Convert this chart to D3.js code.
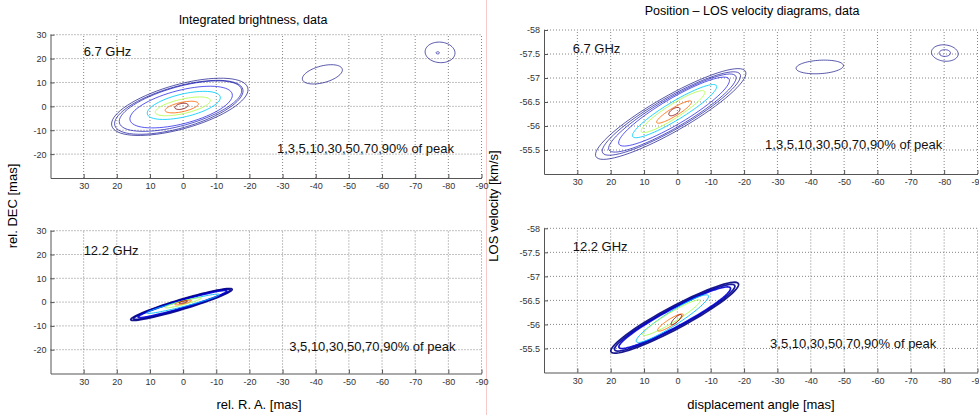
<!DOCTYPE html>
<html><head><meta charset="utf-8">
<script src="https://cdn.jsdelivr.net/npm/d3@7"></script>
<style>
html,body{margin:0;padding:0;background:#fff;}
svg{display:block;font-family:"Liberation Sans",Arial,sans-serif;}
</style></head>
<body>
<svg id="c" width="979" height="415"></svg>
<script>
// ---------- data ----------
const xTicks = [30,20,10,0,-10,-20,-30,-40,-50,-60,-70,-80,-90];
const xDomain = [40,-90];
const decTicks = [30,20,10,0,-10,-20];
const decDomain = [-30,30];
const velTicks = [-58,-57.5,-57,-56.5,-56,-55.5];
const velDomain = [-58,-55];
const levels67 = [1,3,5,10,30,50,70,90];
const levels122 = [3,5,10,30,50,70,90];
// contour records: [level, centerX, centerY, tipX, tipY, halfThickness(y units)]
const brightness67 = [
  [1, 1.0, -0.2, 21.5, -8.2, 9.6],
  [1, -42.0, 13.4, -36.0, 11.2, 3.6],
  [1, -77.5, 22.6, -73.0, 23.1, 4.3],
  [3, 1.3, -0.4, 20.6, -8.0, 9.0],
  [3, -76.8, 22.4, -76.3, 22.4, 0.45],
  [5, 0.8, 0.1, 19.2, -7.0, 8.4],
  [10, 0.6, -0.3, 16.0, -5.8, 7.2],
  [30, -0.2, 0.4, 10.8, -3.2, 4.9],
  [50, 0.1, 0.0, 8.4, -2.6, 3.1],
  [70, 0.4, -0.3, 5.4, -1.8, 2.0],
  [90, 0.5, 0.0, 2.5, -0.6, 1.2]
];
const velocity67 = [
  [1, 2.0, -56.25, 24.4, -55.36, 0.42],
  [1, -42.7, -57.23, -35.6, -57.20, 0.14],
  [1, -80.2, -57.52, -76.2, -57.55, 0.17],
  [3, -80.2, -57.52, -78.5, -57.52, 0.07],
  [3, 1.8, -56.26, 22.4, -55.44, 0.38],
  [5, 1.5, -56.27, 20.5, -55.50, 0.35],
  [10, 1.0, -56.30, 17.5, -55.62, 0.31],
  [30, 0.85, -56.31, 13.4, -55.78, 0.22],
  [50, 1.3, -56.30, 10.8, -55.88, 0.17],
  [70, 1.0, -56.29, 6.2, -56.07, 0.10],
  [90, 0.9, -56.30, 2.5, -56.23, 0.07]
];
const brightness122 = [
  [3, 0.5, -1.0, 15.8, -7.4, 2.2],
  [5, 0.4, -0.9, 15.0, -7.0, 1.9],
  [10, 0.2, -0.8, 13.6, -6.3, 1.6],
  [30, 0.0, -0.7, 11.0, -4.6, 1.2],
  [50, 0.0, -0.3, 5.5, -2.3, 0.8],
  [70, 0.0, -0.2, 2.5, -1.0, 0.55],
  [90, 0.0, 0.0, 1.3, -0.4, 0.4]
];
const velocity122 = [
  [3, 0.8, -56.14, 19.9, -55.43, 0.26],
  [5, 0.8, -56.14, 18.8, -55.47, 0.23],
  [10, 0.8, -56.14, 17.5, -55.52, 0.21],
  [30, 1.5, -56.12, 12.3, -55.64, 0.17],
  [50, 1.8, -56.14, 10.4, -55.78, 0.12],
  [70, 2.1, -56.04, 5.9, -55.87, 0.08],
  [90, 0.3, -56.10, 1.8, -56.00, 0.06]
];
const titles = ["Integrated brightness, data", "Position \u2013 LOS velocity diagrams, data"];
const yLabels = ["rel. DEC [mas]", "LOS velocity [km/s]"];
const xLabels = ["rel. R. A. [mas]", "displacement angle [mas]"];
const freqLabels = ["6.7 GHz", "12.2 GHz"];
const levelLabels = ["1,3,5,10,30,50,70,90% of peak", "3,5,10,30,50,70,90% of peak"];

// ---------- helpers ----------
function jet(v){
  v = Math.max(0, Math.min(1, v));
  const r = Math.max(0, Math.min(1, 1.5 - Math.abs(4*v - 3)));
  const g = Math.max(0, Math.min(1, 1.5 - Math.abs(4*v - 2)));
  const b = Math.max(0, Math.min(1, 1.5 - Math.abs(4*v - 1)));
  return d3.rgb(r*255, g*255, b*255).formatHex();
}
function ellipse(rec, xs, ys){
  const [lev, cx, cy, tx, ty, t] = rec;
  const C = [xs(cx), ys(cy)], P = [xs(tx), ys(ty)];
  const dx = P[0]-C[0], dy = P[1]-C[1];
  const a = Math.max(0.5, Math.hypot(dx, dy));
  const th = Math.atan2(dy, dx);
  const s = Math.sin(th), co = Math.cos(th);
  const tp = Math.abs(ys(cy + t) - ys(cy));
  const inv = 1/(tp*tp) - (s*s)/(a*a);
  const b = inv > 0 ? Math.abs(co)/Math.sqrt(inv) : tp;
  return d3.range(0, 72).map(k => {
    const f = 2*Math.PI*k/72;
    const u = a*Math.cos(f), v = b*Math.sin(f);
    return [C[0] + u*co - v*s, C[1] + u*s + v*co];
  });
}

const svg = d3.select("#c");
const fmt = d => String(d).replace("\u2212", "-");

const panels = [
  {xr:[50.5,481.5], yr:[178,34.7], ydom:decDomain, yticks:decTicks, data:brightness67, levels:levels67, f:0, fx:30, fy:21, lx:-28.3, ly:-19.7, thick:false},
  {xr:[50.5,481.5], yr:[373.5,230.7], ydom:decDomain, yticks:decTicks, data:brightness122, levels:levels122, f:1, fx:30, fy:20, lx:-32, ly:-20.6, thick:true},
  {xr:[544,977.5], yr:[30,174], ydom:velDomain, yticks:velTicks, data:velocity67, levels:levels67, f:0, fx:31.4, fy:-57.52, lx:-26.3, ly:-55.53, thick:false},
  {xr:[544,977.5], yr:[228.3,372.5], ydom:velDomain, yticks:velTicks, data:velocity122, levels:levels122, f:1, fx:31.4, fy:-57.52, lx:-27.8, ly:-55.5, thick:true}
];

// faint separator
svg.append("line").attr("x1",486.5).attr("x2",486.5).attr("y1",0).attr("y2",415)
  .attr("stroke","#f6caca").attr("stroke-width",1);

panels.forEach((p, i) => {
  const xs = d3.scaleLinear().domain(xDomain).range(p.xr);
  const ys = d3.scaleLinear().domain(p.ydom).range(p.yr);
  const yBottom = Math.max(p.yr[0], p.yr[1]), yTop = Math.min(p.yr[0], p.yr[1]);
  const g = svg.append("g");
  // grid
  g.selectAll(".gx").data(xTicks).join("line")
    .attr("x1", d => xs(d)).attr("x2", d => xs(d))
    .attr("y1", yBottom).attr("y2", yTop)
    .attr("stroke", "#777").attr("stroke-width", 0.9).attr("stroke-dasharray", "1,2");
  g.selectAll(".gy").data(p.yticks).join("line")
    .attr("x1", p.xr[0]).attr("x2", p.xr[1])
    .attr("y1", d => ys(d)).attr("y2", d => ys(d))
    .attr("stroke", "#777").attr("stroke-width", 0.9).attr("stroke-dasharray", "1,2");
  // contours
  const lmin = p.levels[0], lmax = p.levels[p.levels.length-1];
  const line = d3.line().curve(d3.curveLinearClosed);
  g.selectAll(".ct").data(p.data).join("path")
    .attr("d", d => line(ellipse(d, xs, ys)))
    .attr("fill", "none")
    .attr("stroke", d => jet((d[0]-lmin)/(lmax-lmin)))
    .attr("stroke-opacity", d => p.thick ? 0.9 : (d[0] <= 10 ? 0.65 : 0.85))
    .attr("stroke-width", d => (p.thick && d[0] <= 10) ? 1.7 : 1);
  // axes
  const ax = d3.axisBottom(xs).tickValues(xTicks).tickSizeInner(-4).tickSizeOuter(0).tickPadding(5).tickFormat(fmt);
  const ay = d3.axisLeft(ys).tickValues(p.yticks).tickSizeInner(-4).tickSizeOuter(0).tickPadding(4).tickFormat(fmt);
  const gx = g.append("g").attr("transform", `translate(0,${yBottom})`).call(ax);
  const gy = g.append("g").attr("transform", `translate(${p.xr[0]},0)`).call(ay);
  [gx, gy].forEach(a => {
    a.select(".domain").attr("stroke", "#555");
    a.selectAll(".tick line").attr("stroke", "#555");
    a.selectAll("text").attr("fill", "#333").style("font-size", "9px")
      .style("font-family", "'Liberation Sans',Arial,sans-serif");
  });
  // annotations
  g.append("text").attr("x", xs(p.fx)).attr("y", ys(p.fy))
    .style("font-size", "13px").attr("fill", "#111").text(freqLabels[p.f]);
  g.append("text").attr("x", xs(p.lx)).attr("y", ys(p.ly))
    .style("font-size", "13px").attr("fill", "#111").text(levelLabels[p.f]);
});

// titles & labels
svg.append("text").attr("x", 253).attr("y", 24).attr("text-anchor", "middle")
  .style("font-size", "12.5px").text(titles[0]);
svg.append("text").attr("x", 752).attr("y", 15).attr("text-anchor", "middle")
  .style("font-size", "12.5px").text(titles[1]);
svg.append("text").attr("x", 259).attr("y", 409).attr("text-anchor", "middle")
  .style("font-size", "13px").text(xLabels[0]);
svg.append("text").attr("x", 761).attr("y", 409).attr("text-anchor", "middle")
  .style("font-size", "13px").text(xLabels[1]);
svg.append("text").attr("transform", "translate(17,206) rotate(-90)").attr("text-anchor", "middle")
  .style("font-size", "13px").text(yLabels[0]);
svg.append("text").attr("transform", "translate(498,206) rotate(-90)").attr("text-anchor", "middle")
  .style("font-size", "13px").text(yLabels[1]);
</script>
</body></html>
